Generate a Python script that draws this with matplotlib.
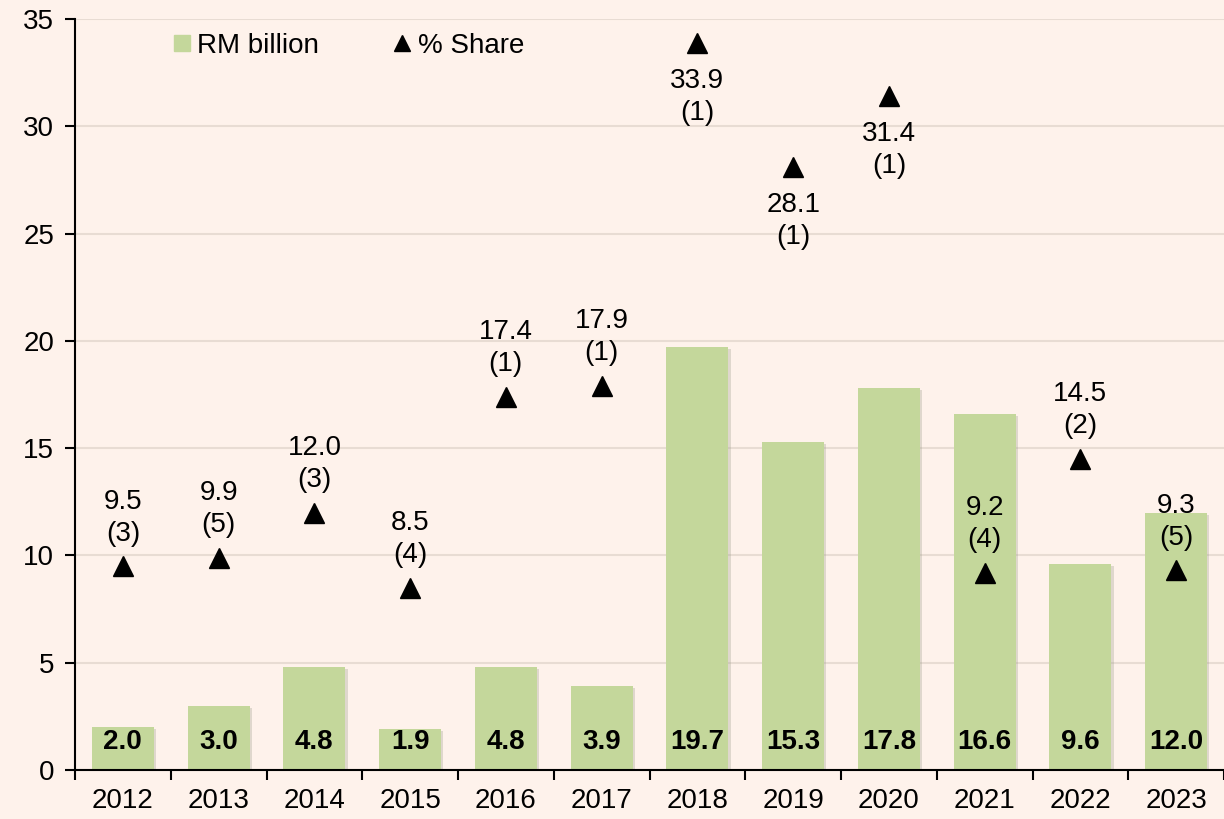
import matplotlib.pyplot as plt
import matplotlib.patheffects as pe
from matplotlib.lines import Line2D
import numpy as np

years = ['2012', '2013', '2014', '2015', '2016', '2017',
         '2018', '2019', '2020', '2021', '2022', '2023']
rm_billion = [2.0, 3.0, 4.8, 1.9, 4.8, 3.9, 19.7, 15.3, 17.8, 16.6, 9.6, 12.0]
pct_share = [9.5, 9.9, 12.0, 8.5, 17.4, 17.9, 33.9, 28.1, 31.4, 9.2, 14.5, 9.3]
rank = [3, 5, 3, 4, 1, 1, 1, 1, 1, 4, 2, 5]
# labels that sit under the triangle instead of above
label_below = ['2018', '2019', '2020']

bg = '#FEF2EB'
bar_col = '#C4D79B'
fs = 20

plt.rcParams['font.family'] = ['Liberation Sans', 'DejaVu Sans']

fig = plt.figure(figsize=(12.24, 8.19), dpi=100, facecolor=bg)
ax = fig.add_axes([75 / 1224, 1 - 770 / 819, 1149 / 1224, 751 / 819])
ax.set_facecolor(bg)

x = np.arange(len(years))
bars = ax.bar(x, rm_billion, width=0.65, color=bar_col, zorder=2)
for b in bars:
    b.set_path_effects([pe.SimplePatchShadow(offset=(1.5, -1.5), shadow_rgbFace='#9a9a8a', alpha=0.3),
                        pe.Normal()])
ax.plot(x, pct_share, '^', color='black', markersize=14, linestyle='none', zorder=3)

# bar values near the base
for xi, v in zip(x, rm_billion):
    ax.annotate(f'{v:.1f}', (xi, 0), xytext=(0, 20), textcoords='offset points',
                ha='center', va='center', fontsize=fs, fontweight='bold', zorder=4)

# share + rank next to triangles
for yr, xi, s, r in zip(years, x, pct_share, rank):
    if yr in label_below:
        ax.annotate(f'{s:.1f}\n({r})', (xi, s), xytext=(0, -18), textcoords='offset points',
                    ha='center', va='top', fontsize=fs, linespacing=1.3, zorder=4)
    else:
        ax.annotate(f'{s:.1f}\n({r})', (xi, s), xytext=(0, 14), textcoords='offset points',
                    ha='center', va='bottom', fontsize=fs, linespacing=1.3, zorder=4)

ax.set_xlim(-0.5, len(years) - 0.5)
ax.set_ylim(0, 35)
ax.set_yticks(range(0, 36, 5))
ax.set_xticks(x)
ax.set_xticklabels(years)
ax.set_xticks(np.arange(-0.5, len(years), 1), minor=True)
ax.tick_params(axis='x', which='major', length=0, labelsize=fs, pad=13)
ax.tick_params(axis='x', which='minor', length=7, width=1.5, direction='out')
ax.tick_params(axis='y', length=7, width=1.5, labelsize=fs, pad=8)

ax.grid(axis='y', color='#E8DCD3', linewidth=1.5, zorder=0)
ax.set_axisbelow(True)
for side in ['top', 'right']:
    ax.spines[side].set_visible(False)
for side in ['left', 'bottom']:
    ax.spines[side].set_linewidth(1.5)

handles = [Line2D([], [], marker='s', color=bar_col, linestyle='none', markersize=11),
           Line2D([], [], marker='^', color='black', linestyle='none', markersize=11)]
ax.legend(handles, ['RM billion', '% Share'], loc='upper left',
          bbox_to_anchor=(0.064, 1.015), ncol=2, frameon=False, fontsize=fs,
          handlelength=0.6, handletextpad=0.25, columnspacing=2.7)

fig.savefig('out.png', dpi=100, facecolor=bg)
